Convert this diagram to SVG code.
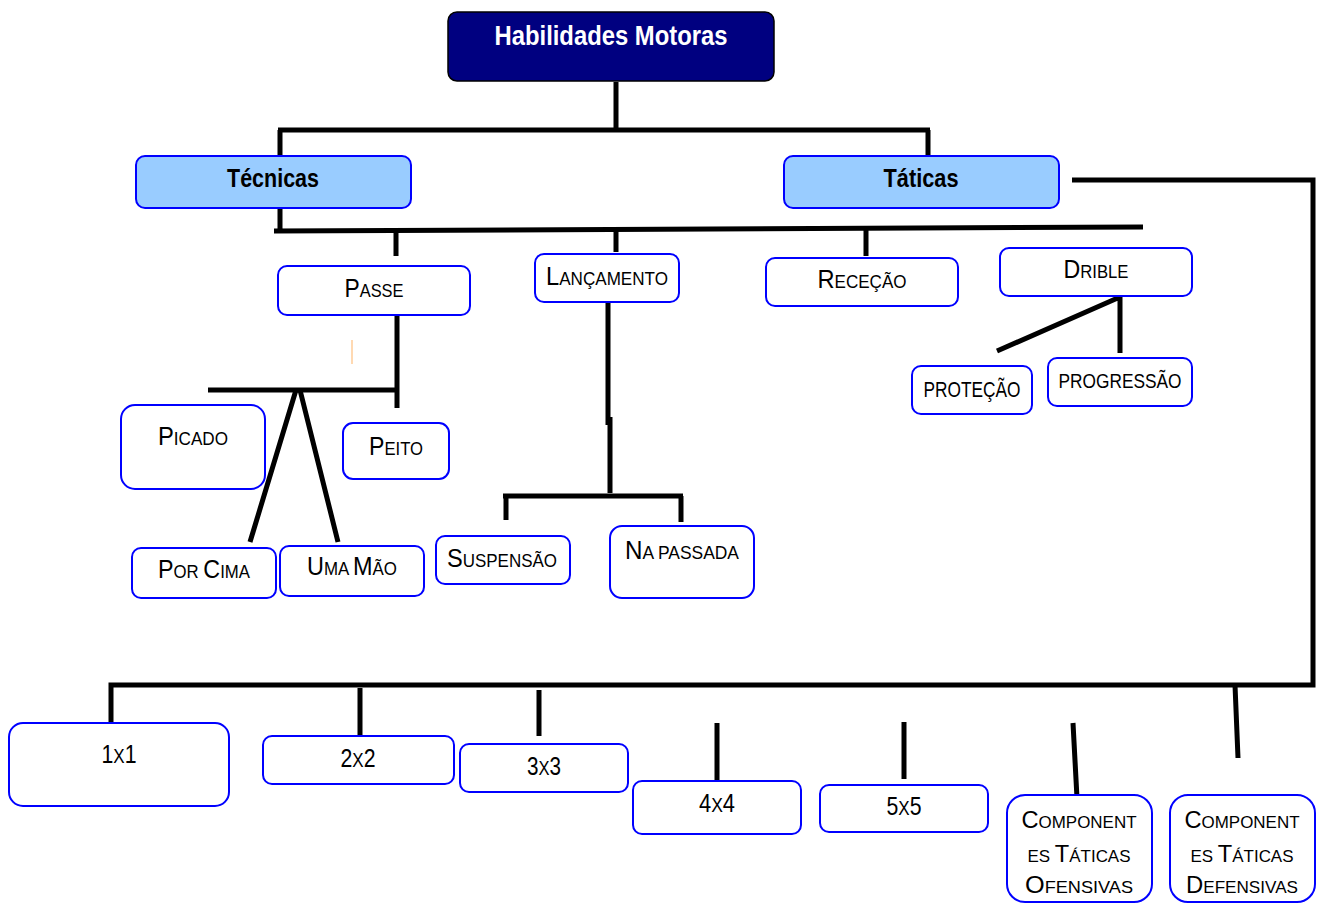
<svg xmlns="http://www.w3.org/2000/svg" width="1325" height="904" viewBox="0 0 1325 904">
<style>
text{font-family:"Liberation Sans",Arial,sans-serif;fill:#000;text-anchor:middle}
.box{fill:#fff;stroke:#0000ff;stroke-width:2}
.cat{fill:#99ccff;stroke:#0000ff;stroke-width:2}
.b{font-size:25px}
.s{font-size:18px}
.cb{font-size:23px}
.cs{font-size:16.5px}
.ln{stroke:#000;stroke-width:5;fill:none;stroke-linecap:butt}
</style>
<rect width="1325" height="904" fill="#fff"/>
<g id="connectors">
  <path class="ln" d="M616 82 V130 M278 130 H930 M280 130 V157 M928 130 V157"/>
  <path class="ln" d="M280 208 V231 M274 231 L1143 227"/>
  <path class="ln" d="M396 231 V256 M616 229 V252 M866 228 V256"/>
  <path class="ln" d="M397 309 V408 M208 390 H397"/>
  <path class="ln" d="M296 390 L250 542 M300 390 L338 542"/>
  <path class="ln" d="M608 300 V425 M610 417 V493 M503 496 H683 M506 496 V520 M681 496 V522"/>
  <path class="ln" d="M1120 296 V353 M1120 297 L997 351"/>
  <path class="ln" d="M1072 180 H1313 V685 H111 V731"/>
  <path class="ln" d="M360 688 V735 M539 690 V736 M717 723 V780 M904 722 V779"/>
  <path class="ln" d="M1073 723 L1077 798 M1235 685 L1238 758"/>
  <line x1="352" y1="340" x2="352" y2="364" stroke="#ffcc99" stroke-width="1.5"/>
</g>
<g id="habilidades">
  <rect x="448" y="12" width="326" height="69" rx="9" fill="#000080" stroke="#000" stroke-width="1.5"/>
  <text x="611" y="45" font-size="28" font-weight="bold" style="fill:#fff" textLength="233" lengthAdjust="spacingAndGlyphs">Habilidades Motoras</text>
</g>
<g id="tecnicas">
  <rect class="cat" x="136" y="156" width="275" height="52" rx="9"/>
  <text x="273" y="187" font-size="26" font-weight="bold" textLength="92" lengthAdjust="spacingAndGlyphs">Técnicas</text>
</g>
<g id="taticas">
  <rect class="cat" x="784" y="156" width="275" height="52" rx="9"/>
  <text x="921" y="187" font-size="26" font-weight="bold" textLength="75" lengthAdjust="spacingAndGlyphs">Táticas</text>
</g>
<g id="passe">
  <rect class="box" x="278" y="266" width="192" height="49" rx="9"/>
  <text x="374" y="297" textLength="59" lengthAdjust="spacingAndGlyphs"><tspan class="b">P</tspan><tspan class="s">ASSE</tspan></text>
</g>
<g id="lancamento">
  <rect class="box" x="535" y="254" width="144" height="48" rx="9"/>
  <text x="607" y="285" textLength="122" lengthAdjust="spacingAndGlyphs"><tspan class="b">L</tspan><tspan class="s">ANÇAMENTO</tspan></text>
</g>
<g id="rececao">
  <rect class="box" x="766" y="258" width="192" height="48" rx="9"/>
  <text x="862" y="288" textLength="89" lengthAdjust="spacingAndGlyphs"><tspan class="b">R</tspan><tspan class="s">ECEÇÃO</tspan></text>
</g>
<g id="drible">
  <rect class="box" x="1000" y="248" width="192" height="48" rx="9"/>
  <text x="1096" y="278" textLength="65" lengthAdjust="spacingAndGlyphs"><tspan class="b">D</tspan><tspan class="s">RIBLE</tspan></text>
</g>
<g id="protecao">
  <rect class="box" x="912" y="366" width="120" height="48" rx="9"/>
  <text x="972" y="397" font-size="22" textLength="97" lengthAdjust="spacingAndGlyphs">PROTEÇÃO</text>
</g>
<g id="progressao">
  <rect class="box" x="1048" y="358" width="144" height="48" rx="9"/>
  <text x="1120" y="388" font-size="21" textLength="123" lengthAdjust="spacingAndGlyphs">PROGRESSÃO</text>
</g>
<g id="picado">
  <rect class="box" x="121" y="405" width="144" height="84" rx="14"/>
  <text x="193" y="445" textLength="70" lengthAdjust="spacingAndGlyphs"><tspan class="b">P</tspan><tspan class="s">ICADO</tspan></text>
</g>
<g id="peito">
  <rect class="box" x="343" y="423" width="106" height="56" rx="10"/>
  <text x="396" y="455" textLength="54" lengthAdjust="spacingAndGlyphs"><tspan class="b">P</tspan><tspan class="s">EITO</tspan></text>
</g>
<g id="porcima">
  <rect class="box" x="132" y="548" width="144" height="50" rx="9"/>
  <text x="204" y="578" textLength="92" lengthAdjust="spacingAndGlyphs"><tspan class="b">P</tspan><tspan class="s">OR </tspan><tspan class="b">C</tspan><tspan class="s">IMA</tspan></text>
</g>
<g id="umamao">
  <rect class="box" x="280" y="546" width="144" height="50" rx="9"/>
  <text x="352" y="575" textLength="90" lengthAdjust="spacingAndGlyphs"><tspan class="b">U</tspan><tspan class="s">MA </tspan><tspan class="b">M</tspan><tspan class="s">ÃO</tspan></text>
</g>
<g id="suspensao">
  <rect class="box" x="436" y="536" width="134" height="48" rx="9"/>
  <text x="502" y="567" textLength="110" lengthAdjust="spacingAndGlyphs"><tspan class="b">S</tspan><tspan class="s">USPENSÃO</tspan></text>
</g>
<g id="napassada">
  <rect class="box" x="610" y="526" width="144" height="72" rx="12"/>
  <text x="682" y="559" textLength="114" lengthAdjust="spacingAndGlyphs"><tspan class="b">N</tspan><tspan class="s">A PASSADA</tspan></text>
</g>
<g id="n1x1">
  <rect class="box" x="9" y="723" width="220" height="83" rx="14"/>
  <text x="119" y="763" textLength="35" lengthAdjust="spacingAndGlyphs"><tspan class="b">1</tspan><tspan font-size="20">X</tspan><tspan class="b">1</tspan></text>
</g>
<g id="n2x2">
  <rect class="box" x="263" y="736" width="191" height="48" rx="9"/>
  <text x="358" y="767" textLength="35" lengthAdjust="spacingAndGlyphs"><tspan class="b">2</tspan><tspan font-size="20">X</tspan><tspan class="b">2</tspan></text>
</g>
<g id="n3x3">
  <rect class="box" x="460" y="744" width="168" height="48" rx="9"/>
  <text x="544" y="775" textLength="34" lengthAdjust="spacingAndGlyphs"><tspan class="b">3</tspan><tspan font-size="20">X</tspan><tspan class="b">3</tspan></text>
</g>
<g id="n4x4">
  <rect class="box" x="633" y="781" width="168" height="53" rx="9"/>
  <text x="717" y="812" textLength="36" lengthAdjust="spacingAndGlyphs"><tspan class="b">4</tspan><tspan font-size="20">X</tspan><tspan class="b">4</tspan></text>
</g>
<g id="n5x5">
  <rect class="box" x="820" y="785" width="168" height="47" rx="9"/>
  <text x="904" y="815" textLength="35" lengthAdjust="spacingAndGlyphs"><tspan class="b">5</tspan><tspan font-size="20">X</tspan><tspan class="b">5</tspan></text>
</g>
<g id="ofensivas">
  <rect class="box" x="1007" y="795" width="145" height="107" rx="18"/>
  <text x="1079" y="828" textLength="115" lengthAdjust="spacingAndGlyphs"><tspan class="cb">C</tspan><tspan class="cs">OMPONENT</tspan></text>
  <text x="1079" y="862" textLength="103" lengthAdjust="spacingAndGlyphs"><tspan class="cs">ES </tspan><tspan class="cb">T</tspan><tspan class="cs">ÁTICAS</tspan></text>
  <text x="1079" y="893" textLength="108" lengthAdjust="spacingAndGlyphs"><tspan class="cb">O</tspan><tspan class="cs">FENSIVAS</tspan></text>
</g>
<g id="defensivas">
  <rect class="box" x="1170" y="795" width="145" height="107" rx="18"/>
  <text x="1242" y="828" textLength="115" lengthAdjust="spacingAndGlyphs"><tspan class="cb">C</tspan><tspan class="cs">OMPONENT</tspan></text>
  <text x="1242" y="862" textLength="103" lengthAdjust="spacingAndGlyphs"><tspan class="cs">ES </tspan><tspan class="cb">T</tspan><tspan class="cs">ÁTICAS</tspan></text>
  <text x="1242" y="893" textLength="112" lengthAdjust="spacingAndGlyphs"><tspan class="cb">D</tspan><tspan class="cs">EFENSIVAS</tspan></text>
</g>
</svg>
